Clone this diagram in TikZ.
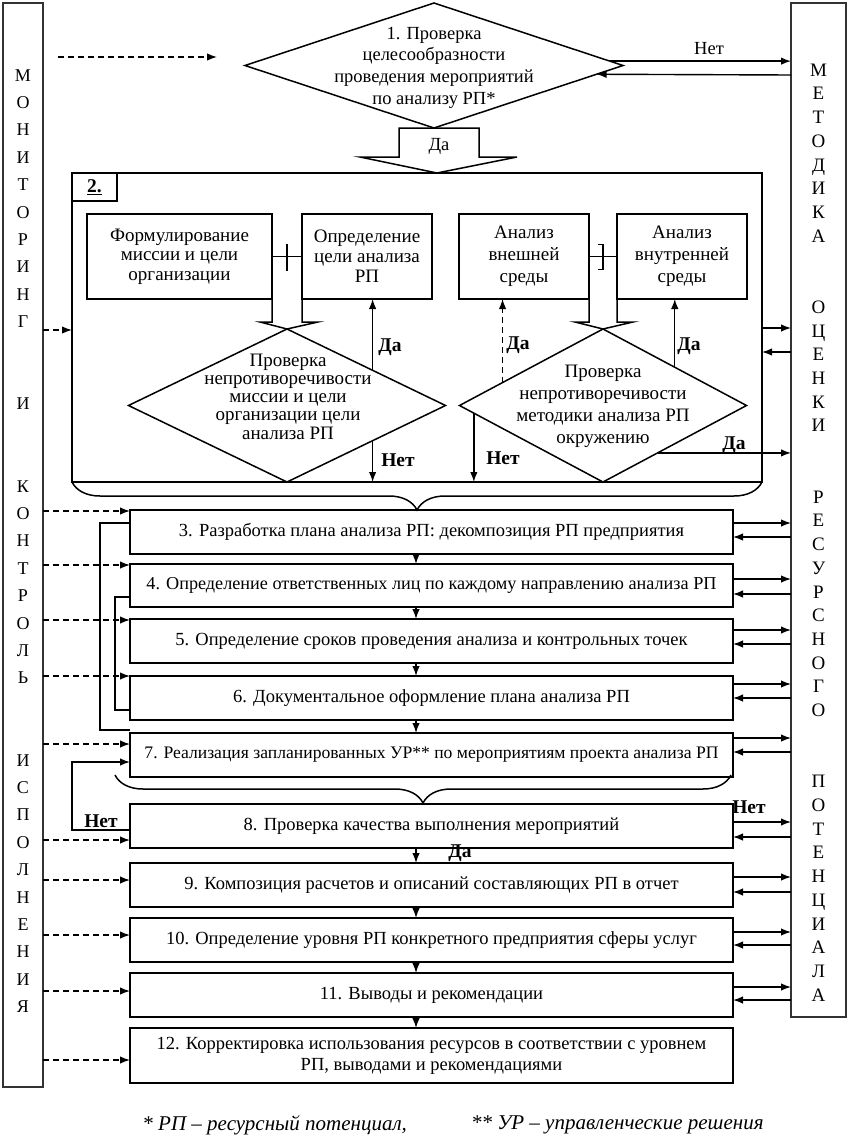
\documentclass[tikz,border=0pt]{standalone}
\usepackage{fontspec}
\setmainfont{Liberation Serif}
\usetikzlibrary{shapes.geometric,arrows.meta,calc,decorations.pathreplacing}
\begin{document}
\begin{tikzpicture}[x=1pt,y=-1pt,
 every node/.style={inner sep=0pt,outer sep=0pt},
 lw/.style={line width=1.5pt},
 stepbox/.style={draw,lw,minimum width=603pt,minimum height=44pt,align=center,font=\fontsize{18.5}{21}\selectfont},
 ibox/.style={draw,lw,minimum width=130pt,minimum height=85pt,align=center},
 dia/.style={draw,lw,diamond,aspect=1},
 dtext/.style={align=center},
 arr/.style={line width=1.4pt,-{Latex[length=10pt,width=7.5pt]}},
 darr/.style={arr,dash pattern=on 6pt off 4pt},
 lbl/.style={font=\bfseries\fontsize{19.5}{19.5}\selectfont},
 col/.style={draw=black!80,line width=1.4pt},
 fb/.style={line width=1.6pt},
 brc/.style={lw,decorate,decoration={brace,amplitude=28pt,mirror}},
]
\fill[white] (0,0) rectangle (849,1148);
\useasboundingbox (0,0) rectangle (849,1148);

% side columns
\node[col,minimum width=40pt,minimum height=1084pt] (lc) at (23,545) {};
\node[font=\fontsize{18}{27.4}\selectfont,align=center] (lct) at (23,541)
 {М\\О\\Н\\И\\Т\\О\\Р\\И\\Н\\Г\\\mbox{}\\\mbox{}\\И\\\mbox{}\\\mbox{}\\К\\О\\Н\\Т\\Р\\О\\Л\\Ь\\\mbox{}\\\mbox{}\\И\\С\\П\\О\\Л\\Н\\Е\\Н\\И\\Я};
\node[col,minimum width=55pt,minimum height=1014pt] (rc) at (818.5,510) {};
\node[font=\fontsize{19}{23.72}\selectfont,align=center] (rct) at (818.5,532.5)
 {М\\Е\\Т\\О\\Д\\И\\К\\А\\\mbox{}\\\mbox{}\\О\\Ц\\Е\\Н\\К\\И\\\mbox{}\\\mbox{}\\Р\\Е\\С\\У\\Р\\С\\Н\\О\\Г\\О\\\mbox{}\\\mbox{}\\П\\О\\Т\\Е\\Н\\Ц\\И\\А\\Л\\А};

% step 1
\node[dia,minimum width=378pt,minimum height=125pt] (d1) at (434,65.5) {};
\node[dtext,font=\fontsize{18.5}{21.7}\selectfont] (d1t) at (434,67.5) {1. Проверка\\целесообразности\\проведения мероприятий\\по анализу РП*};
\coordinate (t0) at (58,57);
\coordinate (t1) at (217,57);
\draw[darr] (t0) -- (t1);
\draw[arr] ($(d1.north)!0.93!(d1.east)$) coordinate (n1) -- (rc.west |- n1);
\node[font=\fontsize{18.5}{18.5}\selectfont] (net1) at (709,49) {Нет};
\draw[arr] (rc.west |- 0,75) -- ($(d1.east)!0.14!(d1.south)$);
\draw[lw,fill=white] (399,128) -- (479,128) -- (479,157) -- (517,157) -- (437,173) -- (360,157) -- (399,157) -- cycle;
\node[font=\fontsize{18.5}{18.5}\selectfont] (da1) at (439,146) {Да};

% block 2
\node[draw,line width=2pt,minimum width=690pt,minimum height=309pt] (b2) at (417,327.5) {};
\node[draw,lw,minimum width=45pt,minimum height=28pt,lbl] (l2) at (94.5,187) {\underline{2.}};
\node[ibox,minimum width=185pt,font=\fontsize{19}{19.5}\selectfont] (bA) at (179.5,256.5) {Формулирование\\миссии и цели\\организации};
\node[ibox,font=\fontsize{19}{20}\selectfont] (bB) at (367,256.5) {Определение\\цели анализа\\РП};
\node[ibox,font=\fontsize{19}{22}\selectfont] (bD) at (524,256.5) {Анализ\\внешней\\среды};
\node[ibox,font=\fontsize{19}{22}\selectfont] (bE) at (682,256.5) {Анализ\\внутренней\\среды};
\draw[lw] (bA.east) -- (bB.west);
\draw[line width=2pt] ($(bA.east)!0.5!(bB.west)+(0,-13)$) -- ++(0,27);
\draw[lw] (bD.east) -- (bE.west);
\draw[lw] ($(bD.east)!0.5!(bE.west)+(-5,-12)$) -- ++(5,0) -- ++(0,25) -- ++(-5,0);

\node[dia,minimum width=317pt,minimum height=153pt] (dC) at (287,405.5) {};
\node[dtext,font=\fontsize{19}{18.3}\selectfont] (dCt) at (288,396.5) {Проверка\\непротиворечивости\\миссии и цели\\организации цели\\анализа РП};
\node[dia,minimum width=287pt,minimum height=153pt] (dF) at (603,405.5) {};
\node[dtext,font=\fontsize{19}{22}\selectfont] (dFt) at (603,406.5) {Проверка\\непротиворечивости\\методики анализа РП\\окружению};

\draw[lw] (bA.south east) -- ++(0,23) -- ++(-12,0) -- (dC.north) -- ++(31,-7) -- ++(-16,0) -- (bB.south west);
\draw[lw] (bD.south east) -- ++(0,23) -- ++(-14,0) -- (dF.north) -- ++(30,-7) -- ++(-16,0) -- (bE.south west);

\draw[arr] ($(dC.north)!0.54!(dC.east)$) coordinate (cy) -- (cy |- bB.south);
\draw[arr] ($(dC.east)!0.46!(dC.south)$) coordinate (cn) -- (cn |- b2.south);
\draw[darr] ($(dF.west)!0.3!(dF.north)$) coordinate (fd) -- (fd |- bD.south);
\draw[arr] ($(dF.north)!0.5!(dF.east)$) coordinate (fu) -- (fu |- bE.south);
\draw[arr] ($(dF.west)!0.1!(dF.south)$) coordinate (fn) -- (fn |- b2.south);
\draw[arr] ($(dF.east)!0.62!(dF.south)$) coordinate (fr) -- (rc.west |- fr);
\node[lbl] (lCy) at (390,347) {Да};
\node[lbl] (lCn) at (398,460) {Нет};
\node[lbl] (lFd) at (518,345) {Да};
\node[lbl] (lFu) at (689,346) {Да};
\node[lbl] (lFn) at (503,458) {Нет};
\node[lbl] (lFr) at (734,445) {Да};

\draw[darr] (lc.east |- 0,330) -- (b2.west |- 0,330);
\draw[arr] (b2.east |- 0,328) -- (rc.west |- 0,328);
\draw[arr] (rc.west |- 0,352) -- (b2.east |- 0,352);
\draw[brc] (b2.south west) -- (b2.south east);

% steps
\node[stepbox] (s3) at (431.5,532) {3. Разработка плана анализа РП: декомпозиция РП предприятия};
\node[stepbox,minimum height=43pt,font=\fontsize{18.2}{21}\selectfont] (s4) at (431.5,585.5) {4. Определение ответственных лиц по каждому направлению анализа РП};
\node[stepbox] (s5) at (431.5,641) {5. Определение сроков проведения анализа и контрольных точек};
\node[stepbox] (s6) at (431.5,698) {6. Документальное оформление плана анализа РП};
\node[stepbox,font=\fontsize{17.6}{21}\selectfont] (s7) at (431.5,755) {7. Реализация запланированных УР** по мероприятиям проекта анализа РП};
\node[stepbox] (s8) at (431.5,826) {8. Проверка качества выполнения мероприятий};
\node[stepbox] (s9) at (431.5,885) {9. Композиция расчетов и описаний составляющих РП в отчет};
\node[stepbox] (s10) at (431.5,940) {10. Определение уровня РП конкретного предприятия сферы услуг};
\node[stepbox] (s11) at (431.5,995) {11. Выводы и рекомендации};
\node[stepbox,minimum height=55pt] (s12) at (431.5,1055.5) {12. Корректировка использования ресурсов в соответствии с уровнем\\РП, выводами и рекомендациями};

\coordinate (br2a) at (115,775);
\coordinate (br2b) at (731,775);
\draw[brc] (br2a) -- (br2b);

\foreach \a/\b in {s3/s4,s4/s5,s5/s6,s6/s7,s8/s9,s9/s10,s10/s11,s11/s12}
 \draw[arr] (\a.south -| 416,0) -- (\b.north -| 416,0);
\foreach \n/\ya/\yb in {s3/523/537,s4/579/594,s5/630/644,s6/684/698,s7/738/752,s8/822/837,s9/877/892,s10/932/945,s11/987/1000}{
 \draw[arr] (\n.east |- 0,\ya) -- (rc.west |- 0,\ya);
 \draw[arr] (rc.west |- 0,\yb) -- (\n.east |- 0,\yb);}
\foreach \n/\y in {s3/511,s4/565,s5/620,s6/676,s7/744,s8/840,s9/880,s10/935,s11/991,s12/1060}
 \draw[darr] (lc.east |- 0,\y) -- (\n.west |- 0,\y);

\draw[fb] (s3.west |- 0,523) -| (100,730) -- (s7.west |- 0,730);
\draw[line width=1.2pt] (s4.west |- 0,597) -| (115,710) -- (s6.west |- 0,710);
\draw[arr] (s8.west |- 0,830) -| (72,762) -- (s7.west |- 0,762);
\node[lbl] (l8n) at (101,821) {Нет};
\node[lbl] (l8r) at (749,807) {Нет};
\node[lbl] (l8d) at (460,853) {Да};

% footnote
\node[font=\itshape\fontsize{21}{21}\selectfont,anchor=east] (fn1) at (407,1125) {* РП – ресурсный потенциал,};
\node[font=\itshape\fontsize{21}{21}\selectfont,anchor=west] (fn2) at (471,1125) {** УР – управленческие решения};
\end{tikzpicture}
\end{document}
